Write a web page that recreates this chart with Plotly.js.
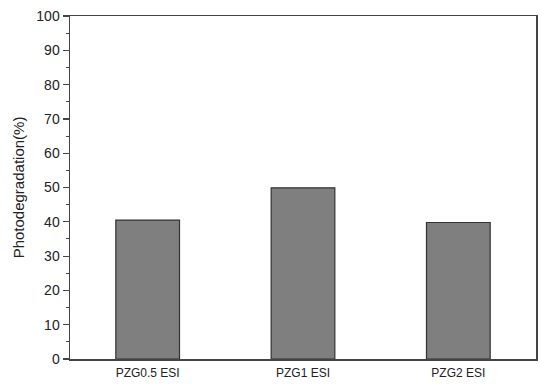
<!DOCTYPE html>
<html>
<head>
<meta charset="utf-8">
<script src="https://cdn.plot.ly/plotly-3.0.1.min.js"></script>
<style>html,body{margin:0;padding:0;background:#fff;}#chart{width:550px;height:387px;}</style>
</head>
<body>
<div id="chart"></div>
<script>
const categories = ["PZG0.5 ESI", "PZG1 ESI", "PZG2 ESI"];
const photodegradation = [40.5, 49.9, 39.8];
const yTicks = [0, 10, 20, 30, 40, 50, 60, 70, 80, 90, 100];

const data = [{
  type: "bar",
  x: categories,
  y: photodegradation,
  width: 0.41,
  marker: {color: "#7f7f7f", line: {color: "#333333", width: 1.2}},
  hoverinfo: "skip"
}];

const layout = {
  width: 550, height: 387,
  margin: {l: 70, r: 14, t: 16, b: 28},
  paper_bgcolor: "#ffffff", plot_bgcolor: "#ffffff",
  showlegend: false,
  font: {family: "Liberation Sans, Arial, sans-serif", size: 12, color: "#222"},
  xaxis: {
    type: "category",
    range: [-0.5, 2.5],
    showline: true, linecolor: "#444", linewidth: 1.5, mirror: true,
    ticks: "", showgrid: false, zeroline: false,
    ticklabelstandoff: 2,
    tickfont: {size: 12, color: "#222"}
  },
  yaxis: {
    range: [0, 100],
    tickvals: yTicks,
    ticks: "outside", ticklen: 6, tickwidth: 1.2, tickcolor: "#444",
    minor: {dtick: 5, ticks: "outside", ticklen: 3, tickwidth: 1, tickcolor: "#444"},
    showline: true, linecolor: "#444", linewidth: 1.5, mirror: true,
    showgrid: false, zeroline: false,
    tickfont: {size: 14, color: "#222"},
    title: {text: "Photodegradation(%)", font: {size: 15, color: "#222"}, standoff: 8}
  }
};

Plotly.newPlot("chart", data, layout, {displayModeBar: false, staticPlot: true});
</script>
</body>
</html>
